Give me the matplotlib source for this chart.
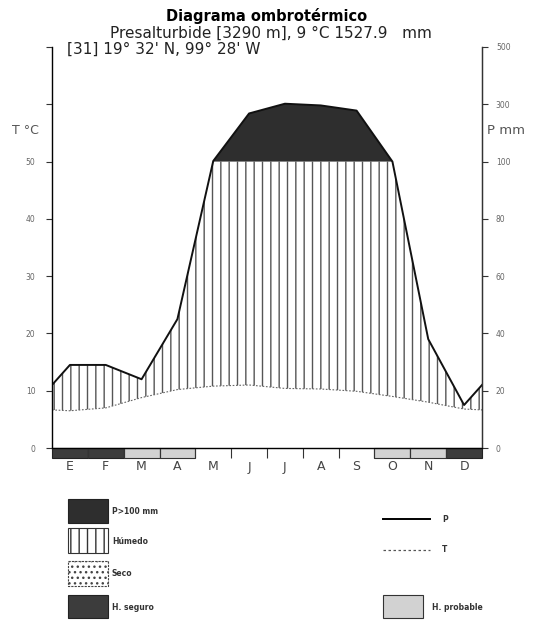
import numpy as np
import matplotlib
matplotlib.use('Agg')
import matplotlib.pyplot as plt
from matplotlib.patches import Rectangle
from matplotlib.lines import Line2D

# datos climaticos mensuales
meses = ['E', 'F', 'M', 'A', 'M', 'J', 'J', 'A', 'S', 'O', 'N', 'D']
temp = [6.5, 7.0, 8.8, 10.2, 10.8, 11.0, 10.4, 10.3, 9.9, 9.0, 8.0, 6.8]
prec = [29, 29, 24, 45, 102, 268, 302, 296, 278, 100, 38, 15]
# S = helada segura, P = helada probable
helada = ['S', 'S', 'P', 'P', '', '', '', '', '', 'P', 'P', 'S']

t_ticks = [0, 10, 20, 30, 40, 50, 60, 70]
t_labels = ['0', '10', '20', '30', '40', '50', '', '']
p_labels = ['0', '20', '40', '60', '80', '100', '300', '500']


def escala_p(p):
    # P <= 100 mm a escala 2:1, por encima comprimido 20:1
    p = np.asarray(p, float)
    return np.where(p <= 100, p / 2.0, 50 + (p - 100) / 20.0)


x = np.arange(12) + 0.5
t_borde = (temp[-1] + temp[0]) / 2
p_borde = (prec[-1] + prec[0]) / 2
xe = np.concatenate([[0], x, [12]])
te = np.concatenate([[t_borde], temp, [t_borde]])
pe = escala_p(np.concatenate([[p_borde], prec, [p_borde]]))

xd = np.linspace(0, 12, 2401)
td = np.interp(xd, xe, te)
pdn = np.interp(xd, xe, pe)

fig = plt.figure(figsize=(5.36, 6.25), dpi=100)
ax = fig.add_axes([52 / 536, 177 / 625, 430 / 536, 401 / 625])

# zona humeda
ax.fill_between(xd, td, np.minimum(pdn, 50), where=pdn > td, facecolor='white',
                hatch='||', edgecolor='#555555', linewidth=0)
# P > 100 mm
ax.fill_between(xd, 50, pdn, where=pdn > 50, facecolor='#2e2e2e', linewidth=0)

ax.plot(xe, pe, color='#111111', lw=1.4)
ax.plot(xe, te, color='#666666', lw=0.8, ls=(0, (1.5, 1.5)))

# barra de heladas
for i, h in enumerate(helada):
    if h == 'S':
        ax.bar(x[i], -1.75, width=1, bottom=0, color='#3c3c3c', edgecolor='#222222',
               lw=0.8, clip_on=False)
    elif h == 'P':
        ax.bar(x[i], -1.75, width=1, bottom=0, color='#d2d2d2', edgecolor='#333333',
               lw=0.8, clip_on=False)

ax.set_xlim(0, 12)
ax.set_ylim(0, 70)
ax.spines['top'].set_visible(False)
for s in ['left', 'right', 'bottom']:
    ax.spines[s].set_color('#333333')
    ax.spines[s].set_linewidth(1.0)

ax.set_xticks(np.arange(1, 12))
ax.set_xticklabels([])
ax.tick_params(axis='x', which='major', length=7, direction='out', color='#333333')
ax.set_xticks(x, minor=True)
ax.set_xticklabels(meses, minor=True, fontsize=9, color='#444444')
ax.tick_params(axis='x', which='minor', length=0, pad=9)

ax.set_yticks(t_ticks)
ax.set_yticklabels(t_labels, fontsize=5.5, color='#666666')
ax.tick_params(axis='y', length=4, color='#333333', pad=8)

ax2 = ax.twinx()
ax2.set_ylim(0, 70)
ax2.set_yticks(t_ticks)
ax2.set_yticklabels(p_labels, fontsize=5.5, color='#666666')
ax2.tick_params(axis='y', length=4, color='#333333', pad=6)
ax2.spines['top'].set_visible(False)
ax2.spines['right'].set_color('#333333')

fig.text(12 / 536, 1 - 130 / 625, 'T °C', fontsize=9, color='#555555', va='center')
fig.text(487 / 536, 1 - 130 / 625, 'P mm', fontsize=9.5, color='#555555', va='center')

fig.text(267 / 536, 1 - 16 / 625, 'Diagrama ombrotérmico', fontsize=10.5,
         fontweight='bold', ha='center', va='center')
fig.text(271 / 536, 1 - 33 / 625, 'Presalturbide [3290 m], 9 °C 1527.9   mm',
         fontsize=11, ha='center', va='center', color='#222222')
fig.text(67 / 536, 1 - 49 / 625, "[31] 19° 32' N, 99° 28' W", fontsize=11,
         ha='left', va='center', color='#222222')

# leyenda
lax = fig.add_axes([0, 0, 1, 1])
lax.set_xlim(0, 536)
lax.set_ylim(625, 0)
lax.axis('off')

lax.add_patch(Rectangle((68, 499), 40, 24, facecolor='#2e2e2e', edgecolor='#222222', lw=0.8))
lax.add_patch(Rectangle((68, 528), 40, 25, facecolor='white', edgecolor='#333333',
                        hatch='||', lw=0.8))
lax.add_patch(Rectangle((68, 561), 40, 25, facecolor='white', edgecolor='#444444',
                        hatch='...', lw=0.8, ls=(0, (2, 1))))
lax.add_patch(Rectangle((68, 595), 40, 23, facecolor='#3c3c3c', edgecolor='#222222', lw=0.8))
lax.add_patch(Rectangle((383, 595), 40, 23, facecolor='#d2d2d2', edgecolor='#333333', lw=0.8))

lax.add_line(Line2D([383, 430], [519, 519], color='black', lw=1.4))
lax.add_line(Line2D([383, 430], [550, 550], color='#555555', lw=0.9, ls=(0, (2, 2))))

kw = dict(fontsize=5.5, fontweight='bold', va='center', color='#333333')
lax.text(112, 511, 'P>100 mm', **kw)
lax.text(112, 541, 'Húmedo', **kw)
lax.text(112, 574, 'Seco', **kw)
lax.text(112, 607, 'H. seguro', **kw)
lax.text(442, 519, 'P', **kw)
lax.text(442, 550, 'T', **kw)
lax.text(432, 607, 'H. probable', **kw)

fig.savefig('out.png', dpi=100)
